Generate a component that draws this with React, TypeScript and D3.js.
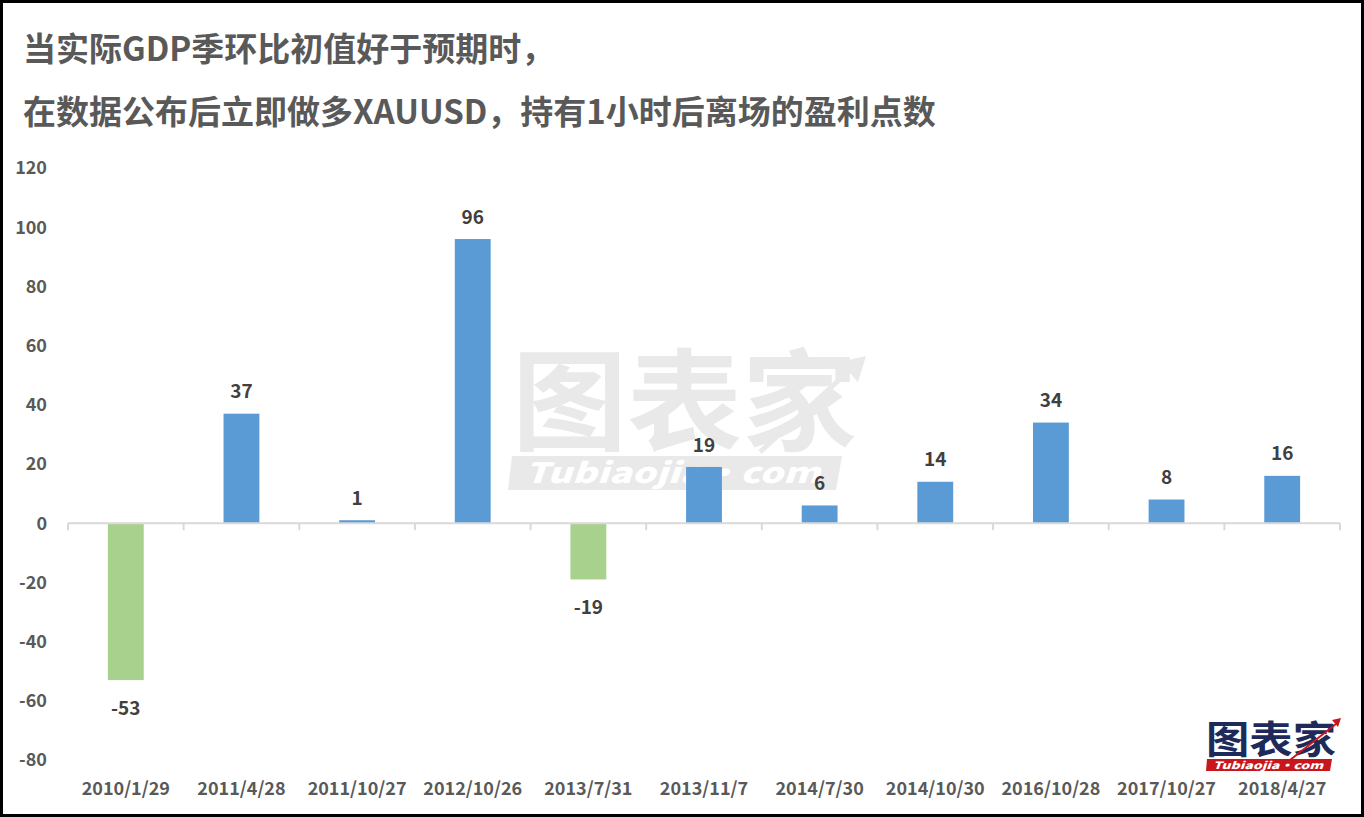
import React from "react";
import * as d3 from "d3";

const categories: string[] = [
  "2010/1/29", "2011/4/28", "2011/10/27", "2012/10/26", "2013/7/31", "2013/11/7",
  "2014/7/30", "2014/10/30", "2016/10/28", "2017/10/27", "2018/4/27",
];
const values: number[] = [-53, 37, 1, 96, -19, 19, 6, 14, 34, 8, 16];
const yTicks: number[] = [120, 100, 80, 60, 40, 20, 0, -20, -40, -60, -80];
const titleLines: string[] = [
  "当实际GDP季环比初值好于预期时，",
  "在数据公布后立即做多XAUUSD，持有1小时后离场的盈利点数",
];

const W = 1364;
const H = 817;
const FONT = "'Noto Sans CJK SC', 'Noto Sans', sans-serif";

export default function App() {
  const x = d3.scaleBand<string>().domain(categories).range([68, 1340]).paddingInner(0.69).paddingOuter(0.345);
  const y = d3.scaleLinear().domain([-80, 120]).range([760, 168]);
  const step = x.step();
  const y0 = y(0);

  return (
    <div style={{ position: "fixed", left: 0, top: 0 }}>
      <svg width={W} height={H} style={{ display: "block" }}>
        <rect x={0} y={0} width={W} height={H} fill="#fff" />
        <rect x={1.5} y={1.5} width={W - 3} height={H - 3} fill="none" stroke="#000" strokeWidth={3} />
        {titleLines.map((t, i) => (
          <text key={i} x={23} y={61 + i * 63} fontFamily={FONT} fontWeight={700} fontSize={33} fill="#595959">
            {t}
          </text>
        ))}
        {/* watermark */}
        <g opacity={0.9}>
          <text x={512} y={442} fontFamily={FONT} fontWeight={700} fontSize={110} fill="#e7e7e7" textLength={345} lengthAdjust="spacingAndGlyphs">
            图表家
          </text>
          <path d="M512,456 L842,456 L836,490 L508,490 Z" fill="#e7e7e7" />
          <text x={525} y={483} fontFamily={FONT} fontStyle="italic" fontWeight={900} fontSize={28} fill="#fff" textLength={295} lengthAdjust="spacingAndGlyphs">
            Tubiaojia·com
          </text>
          <path d="M760,452 L850,370" stroke="#e7e7e7" strokeWidth={5} fill="none" />
          <path d="M840,362 L866,356 L858,382 Z" fill="#e7e7e7" />
        </g>
        {/* y ticks */}
        {yTicks.map((t) => (
          <text key={t} x={47} y={y(t)} dy="0.35em" textAnchor="end" fontFamily={FONT} fontWeight={700} fontSize={18} fill="#595959">
            {t}
          </text>
        ))}
        {/* bars */}
        {values.map((v, i) => {
          const c = categories[i];
          const top = y(Math.max(0, v));
          const h = Math.abs(y(v) - y0);
          return (
            <rect key={c} x={x(c)!} y={top} width={x.bandwidth()} height={h} fill={v >= 0 ? "#5B9BD5" : "#A9D18E"} />
          );
        })}
        {/* axis line */}
        <line x1={68} x2={1340} y1={y0} y2={y0} stroke="#d9d9d9" strokeWidth={2} />
        {d3.range(categories.length + 1).map((i) => {
          const xx = 68 + i * step;
          return <line key={i} x1={xx} x2={xx} y1={y0} y2={y0 + 7} stroke="#d9d9d9" strokeWidth={2} />;
        })}
        {/* data labels */}
        {values.map((v, i) => {
          const cx = x(categories[i])! + x.bandwidth() / 2;
          const ly = v >= 0 ? y(v) - 22 : y(v) + 28;
          return (
            <text key={i} x={cx} y={ly} dy="0.35em" textAnchor="middle" fontFamily={FONT} fontWeight={700} fontSize={19} fill="#404040">
              {v}
            </text>
          );
        })}
        {/* category labels */}
        {categories.map((c) => (
          <text key={c} x={x(c)! + x.bandwidth() / 2} y={789} dy="0.35em" textAnchor="middle" fontFamily={FONT} fontWeight={700} fontSize={18} fill="#595959">
            {c}
          </text>
        ))}
        {/* logo */}
        <g>
          <text x={1206} y={753} fontFamily={FONT} fontWeight={700} fontSize={38} fill="#1e2a5a" textLength={130} lengthAdjust="spacingAndGlyphs">
            图表家
          </text>
          <path d="M1207,759 L1332,759 L1330,771 L1206,771 Z" fill="#c8161d" />
          <text x={1213} y={769} fontFamily={FONT} fontStyle="italic" fontWeight={900} fontSize={10} fill="#fff" textLength={110} lengthAdjust="spacingAndGlyphs">
            Tubiaojia·com
          </text>
          <path d="M1290,760 L1336,724" stroke="#c8161d" strokeWidth={2} fill="none" />
          <path d="M1332,720 L1341,718 L1338,727 Z" fill="#c8161d" />
        </g>
      </svg>
    </div>
  );
}
